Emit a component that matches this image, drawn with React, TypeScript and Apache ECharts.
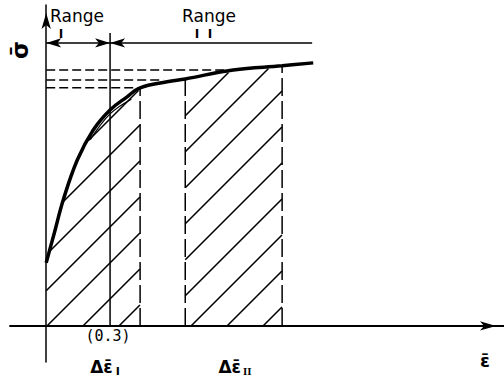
import React, { useEffect, useRef } from "react";
import * as echarts from "echarts";

// Stress–strain curve (σ̄ vs ε̄)
const curve: [number, number][] = [
  [0, 0.24], [0.042, 0.365], [0.08, 0.479], [0.146, 0.631], [0.221, 0.745],
  [0.3, 0.821], [0.38, 0.871], [0.441, 0.905], [0.568, 0.928], [0.653, 0.939],
  [0.878, 0.973], [1.108, 0.989], [1.254, 1.0],
];
const innerCurve: [number, number][] = [[0.207, 0.708], [0.3, 0.806], [0.4, 0.862]];

const rangeDividerX = 0.3;
const rangeDividerTop = 1.114;
const rangeLevel = 1.076;
const rangeEnd = 1.249;

// hatched strain increments Δε̄I and Δε̄II
const hatchRegions: [number, number][] = [[0, 0.441], [0.653, 1.108]];

const dashedLevels = [0.973, 0.935, 0.905];
const dashedLevelEnds = [0.878, 0.55, 0.432];
const dashedVerticalX = [0.441, 0.653, 1.108];
const dashedVerticalTop = [0.905, 0.939, 0.989];

const yAxisLabel = "σ\u0304";

const FONT = "DejaVu Sans";

export default function App() {
  const ref = useRef<HTMLDivElement>(null);
  useEffect(() => {
    document.body.style.margin = "0";
    const chart = echarts.init(ref.current!, null, { renderer: "svg" });
    const seg = (data: number[][], width: number, dash?: number[]) => ({
      type: "line",
      data,
      symbol: "none",
      silent: true,
      z: 3,
      lineStyle: { color: "#000", width, type: dash ? dash : "solid" },
    });

    const HATCH_GAP = 36;
    const HATCH_PHASE = 13;
    const hatchSeries = {
      type: "custom",
      coordinateSystem: "cartesian2d",
      silent: true,
      clip: false,
      z: 2,
      data: [[0, 0]],
      renderItem: (_params: any, api: any) => {
        const pts = curve.map((p) => api.coord(p));
        const base = api.coord([0, 0])[1];
        const curvePy = (px: number) => {
          for (let i = 0; i < pts.length - 1; i++) {
            const [x0, y0] = pts[i];
            const [x1, y1] = pts[i + 1];
            if (px >= x0 && px <= x1) return y0 + ((px - x0) / (x1 - x0)) * (y1 - y0);
          }
          return pts[pts.length - 1][1];
        };
        const children: any[] = [];
        const addLine = (s: number[], e: number[]) =>
          children.push({ type: "line", shape: { x1: s[0], y1: s[1], x2: e[0], y2: e[1] }, style: { stroke: "#000", lineWidth: 1.6 } });
        hatchRegions.forEach(([a, b]) => {
          const pxA = api.coord([a, 0])[0];
          const pxB = api.coord([b, 0])[0];
          let cMin = Infinity;
          for (let px = pxA; px <= pxB; px += 0.5) cMin = Math.min(cMin, px + curvePy(px));
          const cMax = pxB + base;
          let c = Math.ceil((cMin - HATCH_PHASE) / HATCH_GAP) * HATCH_GAP + HATCH_PHASE;
          for (; c <= cMax; c += HATCH_GAP) {
            let start: number[] | null = null;
            let last: number[] | null = null;
            for (let px = pxA; px <= pxB + 0.01; px += 0.25) {
              const py = c - px;
              const inside = py <= base && py >= curvePy(px) + 1.5;
              if (inside) {
                if (!start) start = [px, py];
                last = [px, py];
              } else if (start && last) {
                addLine(start, last);
                start = null;
                last = null;
              }
            }
            if (start && last) addLine(start, last);
          }
        });
        return { type: "group", children };
      },
    };

    const series: any[] = [
      hatchSeries,
      { ...seg(curve, 3.5), smooth: 0.4, z: 4 },
      { ...seg(innerCurve, 1.2), smooth: 0.4 },
      {
        ...seg([[rangeDividerX, 0], [rangeDividerX, rangeDividerTop]], 1.5),
        markLine: {
          silent: true,
          symbolSize: [7, 15],
          label: { show: false },
          lineStyle: { color: "#000", width: 1.5, type: "solid" },
          data: [
            [
              { coord: [0, rangeLevel], symbol: "arrow" },
              { coord: [rangeDividerX, rangeLevel], symbol: "arrow" },
            ],
            [
              { coord: [rangeDividerX, rangeLevel], symbol: "arrow" },
              { coord: [rangeEnd, rangeLevel], symbol: "none" },
            ],
          ],
        },
      },
    ];
    dashedLevels.forEach((y, i) => series.push(seg([[0, y], [dashedLevelEnds[i], y]], 1.5, [9, 4])));
    dashedVerticalX.forEach((x, i) => series.push(seg([[x, 0], [x, dashedVerticalTop[i]]], 1.5, [18, 5])));

    const txt = (x: number, y: number, text: string, fontSize: number, style: any = {}) => ({
      type: "text",
      x,
      y,
      silent: true,
      style: {
        text,
        fontSize,
        fontFamily: FONT,
        fill: "#000",
        align: "center",
        verticalAlign: "middle",
        ...style,
      },
    });

    chart.setOption({
      animation: false,
      backgroundColor: "#fff",
      grid: { left: 10, right: 0, top: 5, bottom: 20 },
      xAxis: {
        type: "value",
        min: -0.17,
        max: 2.15,
        axisLine: {
          show: true,
          onZero: true,
          symbol: ["none", "arrow"],
          symbolSize: [7, 16],
          symbolOffset: [0, -8],
          lineStyle: { color: "#000", width: 1.8 },
        },
        axisTick: { show: false },
        axisLabel: { show: false },
        splitLine: { show: false },
      },
      yAxis: {
        type: "value",
        min: -0.137,
        max: 1.22,
        axisLine: {
          show: true,
          onZero: true,
          symbol: ["none", "arrow"],
          symbolSize: [7, 16],
          symbolOffset: [0, -8],
          lineStyle: { color: "#000", width: 1.5 },
        },
        axisTick: { show: false },
        axisLabel: { show: false },
        splitLine: { show: false },
      },
      series,
      graphic: [
        txt(77, 15.5, "Range", 17),
        txt(61, 34, "I", 12, { fontWeight: "bold" }),
        txt(209, 15.5, "Range", 17),
        txt(203.5, 34, "I  I", 12, { fontWeight: "bold" }),
        { ...txt(20, 50, yAxisLabel, 23, { fontWeight: "bold" }), rotation: Math.PI / 2 },
        txt(108, 336, "(0.3)", 15, { fontFamily: "DejaVu Sans Mono" }),
        txt(105, 367, "", 17, {
          text: "{a|Δε\u0304}{b|I}",
          rich: {
            a: { fontSize: 17, fontWeight: "bold", fontFamily: FONT },
            b: { fontSize: 11, fontFamily: FONT, fontWeight: "bold", padding: [8, 0, 0, 3] },
          },
        }),
        txt(235, 367, "", 17, {
          text: "{a|Δε\u0304}{b|II}",
          rich: {
            a: { fontSize: 17, fontWeight: "bold", fontFamily: FONT },
            b: { fontSize: 11, fontFamily: "Liberation Serif", fontWeight: "bold", padding: [8, 0, 0, 2] },
          },
        }),
        txt(485, 360, "ε\u0304", 18, { fontWeight: "bold" }),
      ],
    });
    return () => chart.dispose();
  }, []);
  return <div ref={ref} style={{ width: 504, height: 382 }} />;
}
